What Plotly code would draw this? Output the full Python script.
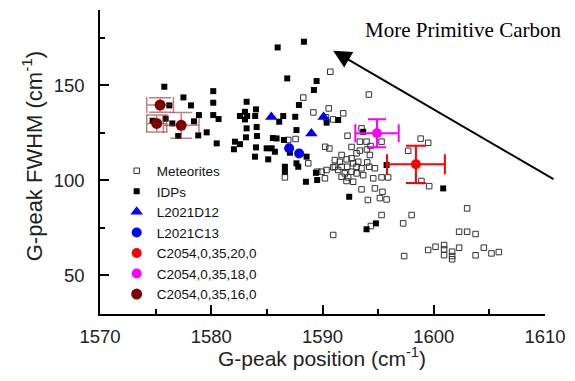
import plotly.graph_objects as go

# ---------------- data ----------------
met_x = [1590.70, 1594.17, 1588.27, 1589.18, 1590.56, 1590.31, 1591.86, 1590.96, 1593.51, 1592.25,
         1590.24, 1590.62, 1592.61, 1593.36, 1593.96, 1593.36, 1593.99, 1594.26, 1591.72, 1593.06,
         1594.32, 1595.31, 1598.82, 1599.50, 1597.70, 1587.58, 1586.92, 1588.72, 1589.52, 1589.92,
         1586.62, 1590.22,
         1591.11, 1591.56, 1592.17, 1592.61, 1592.76, 1593.21,
         1591.11, 1591.72, 1592.22, 1593.06, 1593.51, 1594.71,
         1591.41, 1592.01, 1592.61, 1593.06, 1593.66, 1594.56, 1595.31, 1595.90,
         1591.72, 1592.31, 1592.76,
         1593.51, 1594.71, 1594.08, 1595.16, 1595.76, 1595.31, 1598.01, 1597.25, 1595.39, 1592.16,
         1590.96, 1594.35, 1599.50, 1600.16, 1597.34, 1598.89, 1599.59,
         1603.00, 1602.28, 1603.00, 1603.76,
         1600.93, 1600.93, 1600.93, 1601.65, 1601.65, 1601.65, 1602.28, 1604.50, 1603.76, 1605.19, 1605.85,
         1594.02, 1590.36, 1590.96, 1594.20]
met_y = [157.0, 145.0, 143.4, 135.6, 137.7, 133.0, 135.1, 131.9, 127.2, 123.3,
         117.5, 116.6, 117.4, 120.2, 120.2, 115.5, 116.1, 113.2, 113.2, 114.1,
         117.9, 120.2, 121.8, 119.6, 115.4, 121.6, 121.1, 108.8, 104.4, 104.4,
         101.4, 100.9,
         110.5, 109.6, 110.9, 111.4, 108.8, 109.6,
         107.0, 107.0, 107.0, 107.0, 106.2, 106.2,
         105.3, 103.5, 104.4, 103.5, 102.6, 100.9, 101.4, 101.4,
         101.7, 101.4, 99.1,
         95.1, 95.6, 89.5, 90.5, 89.8, 81.6, 81.6, 77.2, 93.8, 99.5,
         71.1, 75.8, 63.2, 64.9, 60.0, 99.5, 96.8,
         85.1, 72.8, 72.8, 71.6,
         65.8, 63.5, 60.5, 62.3, 60.0, 58.3, 64.4, 64.4, 60.4, 61.4, 62.1,
         109.3, 105.3, 106.7, 107.0]

idp_x = [1575.78, 1577.50, 1578.18, 1576.23, 1580.18, 1580.18, 1578.89, 1580.18, 1580.66, 1574.73,
         1575.90, 1576.50, 1578.45, 1577.03, 1578.83, 1579.59, 1580.49, 1582.13, 1582.04,
         1585.97, 1588.33, 1586.83, 1589.47, 1589.23, 1587.88, 1583.18,
         1582.58, 1583.03, 1583.23, 1583.03, 1584.02, 1583.95,
         1586.47, 1586.11, 1587.55, 1583.18, 1584.08, 1584.11, 1583.12, 1582.58, 1584.02, 1583.93,
         1585.54, 1585.87, 1586.53, 1584.98, 1585.43, 1585.72, 1585.12, 1587.66, 1587.07, 1587.66,
         1588.57, 1586.62, 1586.62, 1587.82, 1588.51, 1589.41, 1589.52, 1590.37, 1591.41, 1593.66,
         1595.76, 1592.40, 1593.96, 1594.80, 1600.85]
idp_y = [149.1, 143.5, 139.3, 139.3, 146.8, 140.7, 134.2, 134.2, 132.1, 131.2,
         132.3, 129.8, 130.9, 123.2, 123.5, 125.1, 119.3, 120.2, 116.2,
         169.8, 172.8, 153.5, 152.1, 147.4, 139.5, 141.2,
         133.7, 131.9, 133.7, 135.9, 137.2, 133.7,
         133.7, 130.7, 133.3, 127.2, 127.9, 123.2, 122.5, 118.9, 117.2, 112.3,
         122.1, 121.9, 121.1, 116.7, 116.7, 114.9, 110.9, 126.3, 114.4, 108.8,
         112.3, 107.0, 104.4, 107.0, 99.1, 103.8, 100.0, 130.2, 131.6, 125.4,
         107.9, 91.2, 74.1, 77.2, 95.6]

d12_x = [1585.4, 1589.0, 1590.1]
d12_y = [133.2, 124.5, 133.2]

c13_x = [1587.0, 1587.9]
c13_y = [116.7, 114.0]

s20_x = [1598.4]
s20_y = [108.3]
s20_xerr = [2.6]
s20_yerr = [9.8]

s18_x = [1594.9]
s18_y = [124.6]
s18_xerr = [1.95]
s18_yerr = [7.4]

s16_x = [1575.4, 1575.1, 1577.3]
s16_y = [139.5, 129.8, 128.8]
s16_xerr = [1.2, 0.9, 1.6]
s16_yerr = [3.8, 4.5, 6.8]

x_ticks = [1570, 1580, 1590, 1600, 1610]
y_ticks = [50, 100, 150]

x_title = "G-peak position (cm<sup>-1</sup>)"
y_title = "G-peak FWHM (cm<sup>-1</sup>)"

FONT = "Liberation Sans, Arial, sans-serif"

fig = go.Figure()

fig.add_trace(go.Scatter(
    x=met_x, y=met_y, mode="markers", name="Meteorites",
    marker=dict(symbol="square-open", size=5.5, color="#333333", line=dict(width=1, color="#333333"))))
fig.add_trace(go.Scatter(
    x=idp_x, y=idp_y, mode="markers", name="IDPs",
    marker=dict(symbol="square", size=6, color="black", line=dict(width=0))))
fig.add_trace(go.Scatter(
    x=d12_x, y=d12_y, mode="markers", name="L2021D12",
    marker=dict(symbol="triangle-up", size=11, color="#0000ff", line=dict(width=0))))
fig.add_trace(go.Scatter(
    x=c13_x, y=c13_y, mode="markers", name="L2021C13",
    marker=dict(symbol="circle", size=10, color="#0000ff", line=dict(width=0))))
fig.add_trace(go.Scatter(
    x=s20_x, y=s20_y, mode="markers", name="C2054,0,35,20,0",
    error_x=dict(type="data", array=s20_xerr, color="#ff0000", thickness=2, width=10),
    error_y=dict(type="data", array=s20_yerr, color="#ff0000", thickness=2, width=10),
    marker=dict(symbol="circle", size=10, color="#ff0000", line=dict(width=0))))
fig.add_trace(go.Scatter(
    x=s18_x, y=s18_y, mode="markers", name="C2054,0,35,18,0",
    error_x=dict(type="data", array=s18_xerr, color="#ff00ff", thickness=2, width=9),
    error_y=dict(type="data", array=s18_yerr, color="#ff00ff", thickness=2, width=9),
    marker=dict(symbol="circle", size=10, color="#ff00ff", line=dict(width=0))))
fig.add_trace(go.Scatter(
    x=s16_x, y=s16_y, mode="markers", name="C2054,0,35,16,0",
    error_x=dict(type="data", array=s16_xerr, color="rgba(150,40,40,0.6)", thickness=1.5, width=8),
    error_y=dict(type="data", array=s16_yerr, color="rgba(150,40,40,0.6)", thickness=1.5, width=11),
    marker=dict(symbol="circle", size=11, color="#800000", line=dict(width=0))))

fig.add_annotation(
    x=1590.96, y=168.1, xref="x", yref="y",
    ax=1610.9, ay=100.0, axref="x", ayref="y",
    text="", showarrow=True, arrowhead=2, arrowsize=1.8, arrowwidth=2, arrowcolor="black")
fig.add_annotation(
    x=1602.66, y=178.9, xref="x", yref="y", text="More Primitive Carbon",
    showarrow=False, font=dict(family="Liberation Serif, Times New Roman, serif", size=21, color="black"))

# axis titles as paper-positioned annotations
fig.add_annotation(
    x=0.499, y=-0.142, xref="paper", yref="paper", xanchor="center", yanchor="middle",
    text=x_title, showarrow=False, font=dict(family=FONT, size=21, color="#222222"))
fig.add_annotation(
    x=-0.152, y=0.52, xref="paper", yref="paper", xanchor="center", yanchor="middle",
    text=y_title, textangle=-90, showarrow=False, font=dict(family=FONT, size=22, color="#222222"))

axis_common = dict(
    showline=True, linecolor="black", linewidth=1.5, mirror=False,
    ticks="inside", ticklen=9, tickwidth=1.5, tickcolor="black",
    showgrid=False, zeroline=False, automargin=False,
    tickfont=dict(family=FONT, size=18.5, color="#222222"),
)

fig.update_xaxes(
    range=[1570, 1610], tickvals=x_ticks, ticktext=[str(v) for v in x_ticks],
    minor=dict(dtick=5, tick0=1570, ticks="inside", ticklen=5, tickwidth=1.5, tickcolor="black", showgrid=False),
    ticklabelstandoff=5,
    **axis_common)
fig.update_yaxes(
    range=[29.5, 189.5], tickvals=y_ticks, ticktext=[str(v) for v in y_ticks],
    minor=dict(dtick=25, tick0=0, ticks="inside", ticklen=5, tickwidth=1.5, tickcolor="black", showgrid=False),
    ticklabelstandoff=10,
    **axis_common)

# page body has an 8px margin, so the figure is drawn 8px in from the top-left corner
fig.update_layout(
    width=559, height=365,
    margin=dict(l=92, r=22, t=2, b=59, autoexpand=False),
    paper_bgcolor="white", plot_bgcolor="white",
    showlegend=True,
    legend=dict(x=0.0375, y=0.5214, xanchor="left", yanchor="top",
                bgcolor="rgba(0,0,0,0)", borderwidth=0,
                font=dict(family=FONT, size=13.5, color="#111111")),
)

fig.write_html("out.html")
